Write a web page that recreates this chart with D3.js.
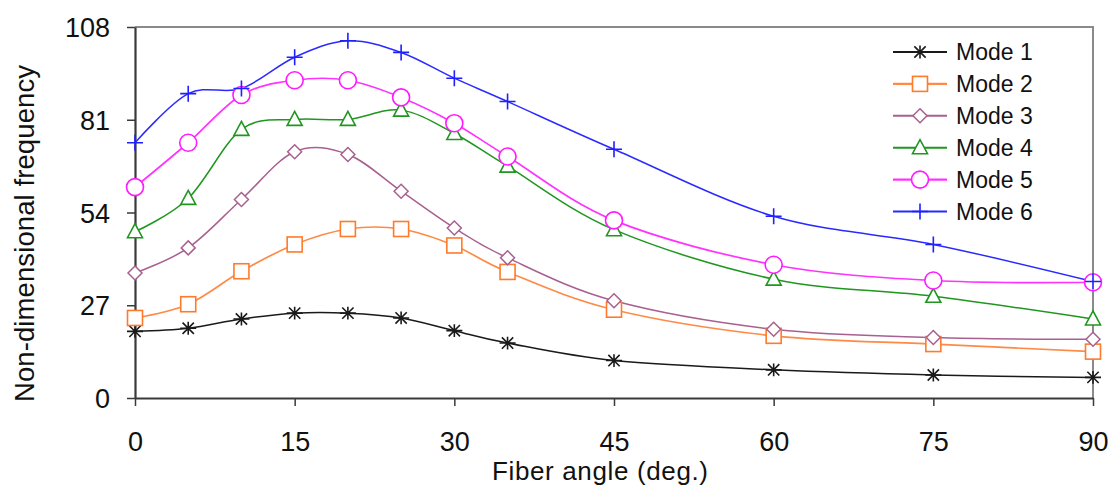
<!DOCTYPE html>
<html>
<head>
<meta charset="utf-8">
<script src="https://cdn.jsdelivr.net/npm/d3@7"></script>
<style>
  html, body { margin: 0; padding: 0; background: #fff; }
  svg text { font-family: "Liberation Sans", Arial, sans-serif; fill: #111; }
</style>
</head>
<body>
<svg id="chart" width="1114" height="486"></svg>
<script>
// Fiber angles (deg.)
const angles = [0, 5, 10, 15, 20, 25, 30, 35, 45, 60, 75, 90];

// Non-dimensional frequency for each mode
const mode1 = [19.4, 20.3, 23.0, 24.7, 24.7, 23.3, 19.6, 16.0, 10.9, 8.2, 6.7, 6.0];
const mode2 = [23.3, 27.3, 36.9, 44.7, 49.2, 49.2, 44.4, 36.7, 25.7, 18.1, 15.7, 13.5];
const mode3 = [36.4, 43.7, 57.8, 71.7, 70.9, 60.2, 49.5, 40.8, 28.3, 20.0, 17.6, 17.1];
const mode4 = [48.4, 58.1, 78.2, 81.1, 81.1, 83.8, 77.0, 67.5, 49.0, 34.6, 29.6, 23.0];
const mode5 = [61.4, 74.3, 88.2, 92.5, 92.5, 87.5, 80.0, 70.3, 51.7, 38.8, 34.2, 33.7];
const mode6 = [74.3, 88.6, 90.1, 99.2, 104.0, 100.6, 93.1, 86.3, 72.4, 52.9, 44.7, 33.9];

const seriesNames = ["Mode 1", "Mode 2", "Mode 3", "Mode 4", "Mode 5", "Mode 6"];
const xTicks = [0, 15, 30, 45, 60, 75, 90];
const yTicks = [0, 27, 54, 81, 108];

const series = [
  { name: seriesNames[0], values: mode1, color: "#1a1a1a", line: "#1a1a1a", lw: 1.5, marker: "asterisk" },
  { name: seriesNames[1], values: mode2, color: "#ff7a2a", line: "#ff8a45", lw: 1.7, marker: "square" },
  { name: seriesNames[2], values: mode3, color: "#a8608f", line: "#a8608f", lw: 1.5, marker: "diamond" },
  { name: seriesNames[3], values: mode4, color: "#1f961f", line: "#1f961f", lw: 1.5, marker: "triangle" },
  { name: seriesNames[4], values: mode5, color: "#ff1aff", line: "#ff33ff", lw: 1.7, marker: "circle" },
  { name: seriesNames[5], values: mode6, color: "#1f1fff", line: "#2a2aff", lw: 1.5, marker: "plus" }
];

const svg = d3.select("#chart");
const plotLeft = 135, plotRight = 1093, plotTop = 27, plotBottom = 398;

const x = d3.scaleLinear().domain([0, 90]).range([plotLeft, plotRight]);
const y = d3.scaleLinear().domain([0, 108]).range([plotBottom, plotTop]);

// Plot frame (top and right edges)
svg.append("path")
  .attr("d", `M${plotLeft},${plotTop}H${plotRight}V${plotBottom}`)
  .attr("fill", "none")
  .attr("stroke", "#8a8a8a")
  .attr("stroke-width", 2);

// Axes
const xAxis = svg.append("g")
  .attr("transform", `translate(0,${plotBottom})`)
  .call(d3.axisBottom(x).tickValues(xTicks).tickSize(8).tickPadding(26).tickSizeOuter(0));
const yAxis = svg.append("g")
  .attr("transform", `translate(${plotLeft},0)`)
  .call(d3.axisLeft(y).tickValues(yTicks).tickSize(8).tickPadding(17).tickSizeOuter(0));

[xAxis, yAxis].forEach(g => {
  g.select(".domain").attr("stroke", "#3a3a3a").attr("stroke-width", 2.2);
  g.selectAll(".tick line").attr("stroke", "#3a3a3a").attr("stroke-width", 1.5);
  g.selectAll(".tick text")
    .attr("font-family", "'Liberation Sans', Arial, sans-serif")
    .attr("font-size", 27)
    .attr("fill", "#111");
});
yAxis.selectAll(".tick text").attr("dy", "0.36em");

// Axis titles
svg.append("text")
  .attr("x", (plotLeft + plotRight) / 2 - 14)
  .attr("y", 480)
  .attr("text-anchor", "middle")
  .attr("font-size", 26)
  .attr("textLength", 216)
  .text("Fiber angle (deg.)");

svg.append("text")
  .attr("transform", `translate(34,${(65 + 402) / 2}) rotate(-90)`)
  .attr("text-anchor", "middle")
  .attr("font-size", 27.5)
  .attr("textLength", 337)
  .text("Non-dimensional frequency");

// Marker shapes drawn around (0,0)
function drawMarker(g, type, color) {
  switch (type) {
    case "asterisk": {
      const r = 8;
      const a = Math.SQRT1_2 * r;
      g.append("path")
        .attr("d", `M${-r},0H${r}M${-a},${-a}L${a},${a}M${-a},${a}L${a},${-a}M0,${-r * 0.8}V${r * 0.8}`)
        .attr("stroke", color).attr("stroke-width", 1.6).attr("fill", "none");
      break;
    }
    case "square":
      g.append("rect").attr("x", -7.5).attr("y", -7.5).attr("width", 15).attr("height", 15)
        .attr("fill", "#fff").attr("stroke", color).attr("stroke-width", 1.6);
      break;
    case "diamond":
      g.append("path").attr("d", "M0,-7L7,0L0,7L-7,0Z")
        .attr("fill", "#fff").attr("stroke", color).attr("stroke-width", 1.5);
      break;
    case "triangle":
      g.append("path").attr("d", "M0,-8L7.5,6L-7.5,6Z")
        .attr("fill", "#fff").attr("stroke", color).attr("stroke-width", 1.6);
      break;
    case "circle":
      g.append("circle").attr("r", 8.5)
        .attr("fill", "#fff").attr("stroke", color).attr("stroke-width", 1.6);
      break;
    case "plus":
      g.append("path").attr("d", "M-8,0H8M0,-8V8")
        .attr("stroke", color).attr("stroke-width", 1.6).attr("fill", "none");
      break;
  }
}

// Smoothed curves with markers
const line = d3.line()
  .x((d, i) => x(angles[i]))
  .y(d => y(d))
  .curve(d3.curveCatmullRom.alpha(0));

series.forEach(s => {
  svg.append("path")
    .datum(s.values)
    .attr("d", line)
    .attr("fill", "none")
    .attr("stroke", s.line)
    .attr("stroke-width", s.lw);
});

series.forEach(s => {
  s.values.forEach((v, i) => {
    const g = svg.append("g").attr("transform", `translate(${x(angles[i])},${y(v)})`);
    drawMarker(g, s.marker, s.color);
  });
});

// Legend
const legend = svg.append("g");
series.forEach((s, i) => {
  const cy = 52 + i * 31.9;
  legend.append("line")
    .attr("x1", 893).attr("x2", 947).attr("y1", cy).attr("y2", cy)
    .attr("stroke", s.line).attr("stroke-width", s.lw + 0.6);
  const g = legend.append("g").attr("transform", `translate(920,${cy})`);
  drawMarker(g, s.marker, s.color);
  legend.append("text")
    .attr("x", 956).attr("y", cy)
    .attr("dy", "0.36em")
    .attr("font-size", 23)
    .text(s.name);
});
</script>
</body>
</html>
